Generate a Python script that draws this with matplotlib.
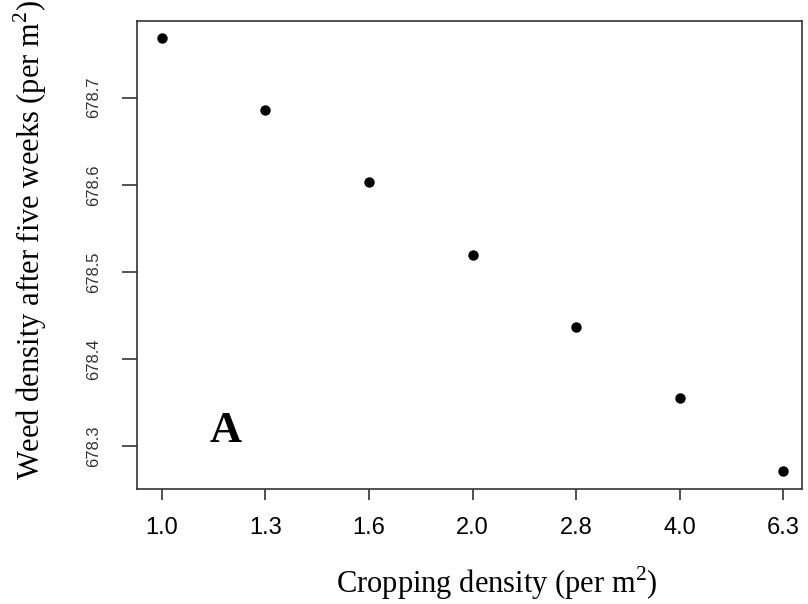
import matplotlib
matplotlib.use("Agg")
import matplotlib.pyplot as plt

categories = ["1.0", "1.3", "1.6", "2.0", "2.8", "4.0", "6.3"]
weed_density = [678.769, 678.686, 678.603, 678.520, 678.437, 678.355, 678.272]
y_ticks = [678.3, 678.4, 678.5, 678.6, 678.7]

plt.rcParams["mathtext.fontset"] = "custom"
plt.rcParams["mathtext.rm"] = "Liberation Serif"

W, H = 808, 604
fig = plt.figure(figsize=(W / 100, H / 100), dpi=100)
ax = fig.add_axes([137 / W, 1 - 489 / H, (802 - 137) / W, (489 - 21) / H])

xpos = list(range(1, len(categories) + 1))
ax.plot(xpos, weed_density, linestyle="none", marker="o", markersize=7.5,
        color="black", markeredgewidth=0)

ax.set_xlim(0.76, 7.18)
ax.set_ylim(678.251, 678.788)
ax.set_xticks(xpos)
ax.set_xticklabels(categories, fontsize=17, fontfamily="Liberation Sans")
ax.set_yticks(y_ticks)
ax.set_yticklabels([f"{v:.1f}" for v in y_ticks], fontsize=12,
                   fontfamily="Liberation Sans", rotation=90, va="center",
                   color="#333333")
ax.tick_params(axis="x", length=8, width=1.2, color="#333333", pad=12)
ax.tick_params(axis="y", length=11, width=1.2, color="#333333", pad=15)
for s in ax.spines.values():
    s.set_linewidth(1.2)
    s.set_color("#333333")

ax.set_xlabel("Cropping density (per m$^2$)", fontsize=22,
              fontfamily="Liberation Serif", va="center", ha="center")
ax.xaxis.set_label_coords((497 - 137) / 665, (489 - 583) / 468)
ax.set_ylabel("Weed density after five weeks (per m$^2$)", fontsize=22,
              fontfamily="Liberation Serif", va="center", ha="center")
ax.yaxis.set_label_coords((30 - 137) / 665, (489 - 240) / 468)

ax.text(1.62, 678.318, "A", fontsize=32, fontweight="bold",
        fontfamily="Liberation Serif", ha="center", va="center")

fig.savefig("out.png", dpi=100)
